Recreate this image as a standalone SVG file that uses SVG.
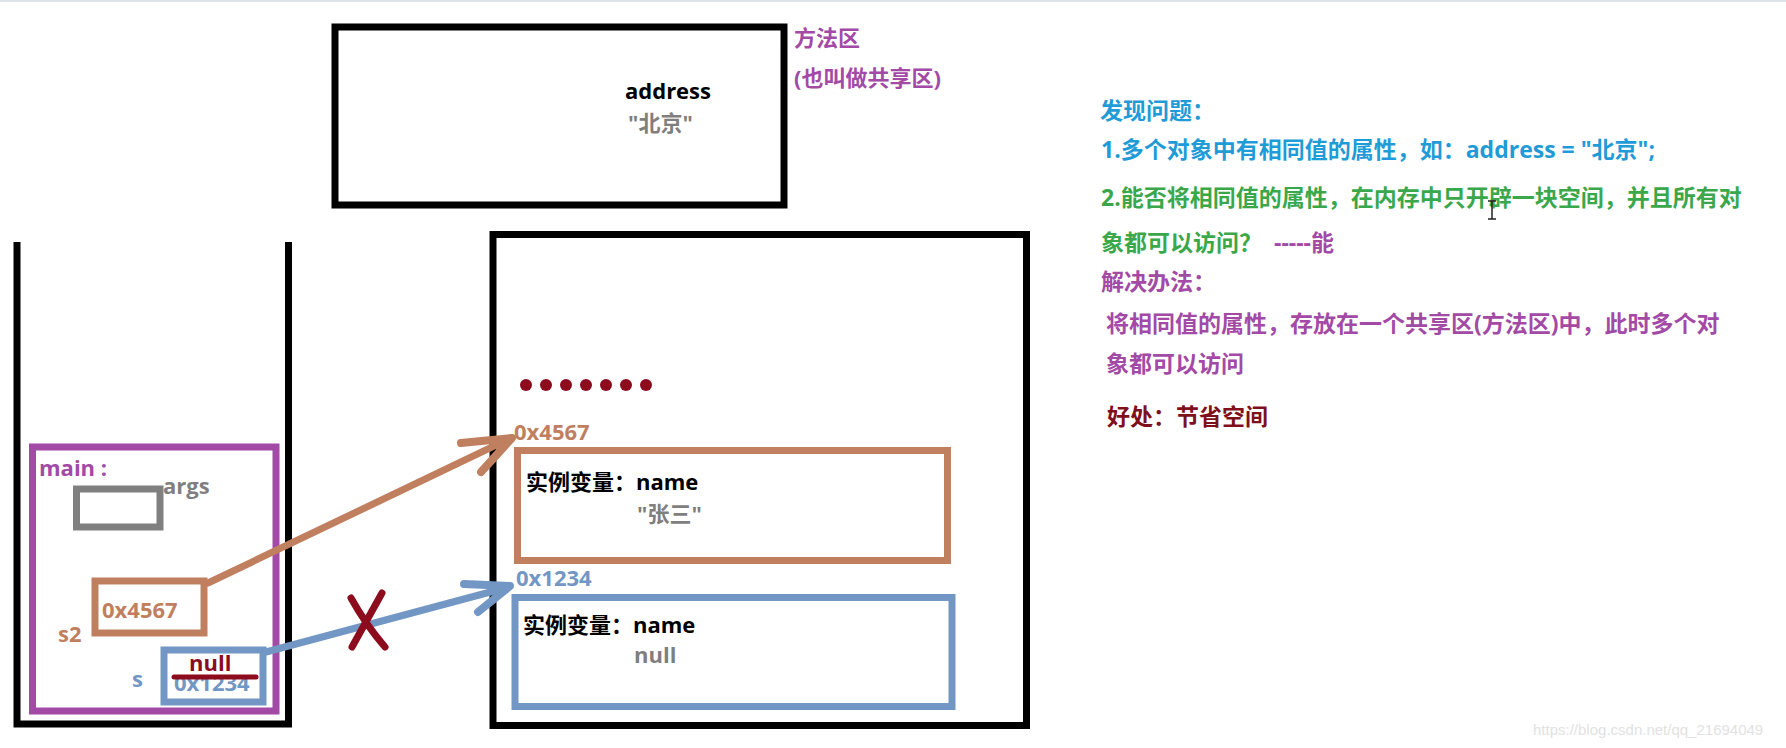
<svg xmlns="http://www.w3.org/2000/svg" width="1786" height="748" viewBox="0 0 1786 748">
<style>
text{font-family:"Open Sans","Noto Sans CJK SC",sans-serif;font-weight:bold;font-size:22px}
.blk{fill:#000}
.gry{fill:#7f7f7f}
.pur{fill:#a24aa6}
.brn{fill:#c08060}
.blu{fill:#7397c4}
.red{fill:#8c0b1d}
.rt{font-size:23px}
.box{fill:none;stroke-width:7}
.arr{fill:none;stroke-linecap:round;stroke-linejoin:round}
</style>
<rect x="0" y="0" width="1786" height="748" fill="#fff"/>
<rect x="0" y="0" width="1786" height="2" fill="#dde3ea"/>

<g id="method-area">
<rect class="box" x="335" y="27" width="449" height="178" stroke="#000"/>
<text class="blk" x="625" y="99">address</text>
<text class="gry" x="628" y="131">"北京"</text>
<text class="pur" x="794" y="46">方法区</text>
<text class="pur" x="794" y="86">(也叫做共享区)</text>
</g>

<g id="stack">
<path class="box" d="M17,242 V724 H288.5 V242" stroke="#000"/>
</g>

<g id="main-frame">
<rect class="box" x="32.5" y="447" width="243.5" height="264" stroke="#a24aa6"/>
<text class="pur" x="39" y="476">main :</text>
</g>

<g id="args">
<rect class="box" x="76.5" y="489" width="83.5" height="38" stroke="#808080" stroke-width="6"/>
<text class="gry" x="163" y="494">args</text>
</g>

<g id="s2">
<rect class="box" x="95" y="581" width="109" height="52" stroke="#c08060"/>
<text class="brn" x="102" y="618">0x4567</text>
<text class="brn" x="58" y="642">s2</text>
</g>

<g id="s">
<rect class="box" x="164" y="650" width="99" height="52" stroke="#7397c4"/>
<text class="blu" x="132" y="687">s</text>
<text class="blu" x="174" y="691">0x1234</text>
<line x1="174" y1="677" x2="256" y2="677" stroke="#8c0b1d" stroke-width="5" stroke-linecap="round"/>
<text class="red" x="189" y="671">null</text>
</g>

<g id="heap">
<rect class="box" x="493" y="234.5" width="533.5" height="491" stroke="#000"/>
<g fill="#8c0b1d">
<circle cx="526" cy="385" r="6"/>
<circle cx="546" cy="385" r="6"/>
<circle cx="566" cy="385" r="6"/>
<circle cx="586" cy="385" r="6"/>
<circle cx="606" cy="385" r="6"/>
<circle cx="626" cy="385" r="6"/>
<circle cx="646" cy="385" r="6"/>
</g>
</g>

<g id="obj-4567">
<text class="brn" x="514" y="440">0x4567</text>
<rect class="box" x="517.5" y="450.5" width="430" height="110" stroke="#c08060"/>
<text class="blk" x="526" y="490">实例变量：name</text>
<text class="gry" x="637" y="522">"张三"</text>
</g>

<g id="obj-1234">
<text class="blu" x="516" y="586">0x1234</text>
<rect class="box" x="515" y="597.5" width="437" height="109" stroke="#7397c4"/>
<text class="blk" x="523" y="633">实例变量：name</text>
<text class="gry" x="634" y="663">null</text>
</g>

<g id="connectors">
<path class="arr" d="M208,583 L511,438" stroke="#c08060" stroke-width="7"/>
<path class="arr" d="M461,443 L512,438 L481,472" stroke="#c08060" stroke-width="8"/>
<path class="arr" d="M266,652 L509,587" stroke="#7397c4" stroke-width="7"/>
<path class="arr" d="M464,584 L510,586 L478,612" stroke="#7397c4" stroke-width="8"/>
<path class="arr" d="M351,598 Q366,625 385,647" stroke="#8c0b1d" stroke-width="7"/>
<path class="arr" d="M382,593 L352,647" stroke="#8c0b1d" stroke-width="7"/>
</g>

<g id="notes">
<text class="rt" x="1100" y="119" fill="#1f9bd7">发现问题：</text>
<text class="rt" x="1101" y="158" fill="#1f9bd7">1.多个对象中有相同值的属性，如：address = "北京";</text>
<text class="rt" x="1101" y="206" fill="#3aa84a">2.能否将相同值的属性，在内存中只开辟一块空间，并且所有对</text>
<text class="rt" x="1101" y="251" fill="#3aa84a">象都可以访问？ <tspan x="1274" fill="#a24aa6">-----能</tspan></text>
<text class="rt pur" x="1101" y="290">解决办法：</text>
<text class="rt pur" x="1106" y="332">将相同值的属性，存放在一个共享区(方法区)中，此时多个对</text>
<text class="rt pur" x="1106" y="372">象都可以访问</text>
<text class="rt" x="1107" y="425" fill="#7f0f1a">好处：节省空间</text>
</g>

<path d="M1488,201 H1496 M1492,201 V219 M1488,219 H1496" stroke="#222" stroke-width="1.5" fill="none"/>
<text x="1533" y="735" style="font-family:'Liberation Sans',sans-serif;font-weight:normal;font-size:15px" fill="#e2e2e2">https://blog.csdn.net/qq_21694049</text>
</svg>
